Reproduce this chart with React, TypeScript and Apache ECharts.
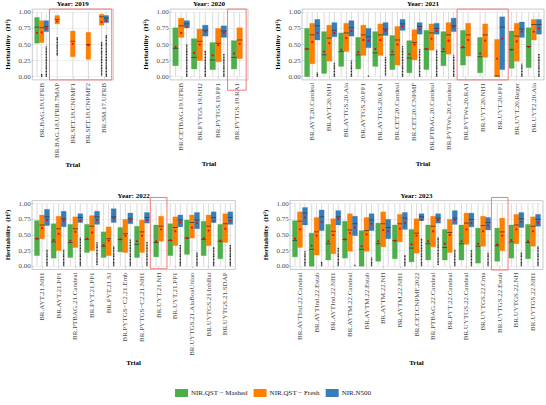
import React, { useEffect, useRef } from 'react';
import * as echarts from 'echarts';

const FONT = '"Liberation Serif", "Times New Roman", serif';
const SERIES_NAMES = ['NIR.QST − Mashed', 'NIR.QST − Fresh', 'NIR.N500'];
const SERIES_COLORS = ['#4daf4a', '#ff7f00', '#377eb8'];
const Y_TICKS = [0, 0.25, 0.5, 0.75, 1];
const YEAR_TITLES = ['Year: 2019', 'Year: 2020', 'Year: 2021', 'Year: 2022', 'Year: 2023'];

// Each box: [whiskerLo, q1, median, q3, whiskerHi, mean, outlierLo, outlierHi]
type Box = (number | null)[] | null;

const CATS_2019 = ['BR.BAG.18.UFRB', 'BR.BAG.18.UFRB.7MAP', 'BR.SET.18.CNPMF1', 'BR.SET.18.CNPMF2', 'BR.SM.17.UFRB'];
const MASHED_2019: Box[] = [[0, 0.52, 0.77, 0.92, 1, 0.68], null, null, null, null];
const FRESH_2019: Box[] = [
  [0, 0.53, 0.76, 0.87, 1, 0.69, 0.0, 0.04],
  [0, 0.82, 0.89, 0.95, 1, 0.86, 0.33, 0.62],
  [0, 0.31, 0.55, 0.71, 1, 0.51],
  [0, 0.27, 0.5, 0.69, 1, 0.49],
  [0, 0.8, 0.93, 0.97, 1, 0.85, 0.02, 0.55],
];
const N500_2019: Box[] = [
  [0, 0.7, 0.78, 0.87, 0.97, 0.75, 0.0, 0.47],
  null, null, null,
  [0, 0.84, 0.91, 0.95, 1, 0.87, 0.0, 0.65],
];

const CATS_2020 = ['BR.CETBAG.19.UFRB', 'BR.PYTGS.19.NH2', 'BR.PYTGS.19.PP1', 'BR.PYTGS.19.RA1'];
const MASHED_2020: Box[] = [
  [0, 0.17, 0.44, 0.76, 1, 0.46],
  [0, 0.12, 0.3, 0.59, 1, 0.37],
  [0, 0.11, 0.26, 0.53, 1, 0.33],
  [0, 0.12, 0.3, 0.56, 1, 0.36],
];
const FRESH_2020: Box[] = [
  [0.1, 0.61, 0.79, 0.91, 1, 0.68],
  [0, 0.25, 0.55, 0.74, 1, 0.5],
  [0, 0.23, 0.52, 0.75, 1, 0.49],
  [0, 0.28, 0.57, 0.76, 1, 0.51],
];
const N500_2020: Box[] = [
  [0, 0.76, 0.82, 0.87, 1, 0.77, 0.0, 0.5],
  [0, 0.63, 0.72, 0.8, 1, 0.7, 0.0, 0.4],
  [0, 0.61, 0.71, 0.79, 1, 0.68, 0.0, 0.36],
  null,
];

const CATS_2021 = [
  'BR.AYT.20.Candeal', 'BR.AYT.20.NH1', 'BR.AYTGS.20.Ala', 'BR.AYTGS.20.PP1', 'BR.AYTGS.20.RA1',
  'BR.CET.20.Candeal', 'BR.CET.20.CNPMF', 'BR.PTBAG.20.Candeal', 'BR.PYTWs.20.Candeal', 'BR.PYTWs.20.RA1',
  'BR.UYT.20.NH1', 'BR.UYT.20.PP1', 'BR.UYT.20.Reger', 'BR.UYT2.20.Ala',
];
const MASHED_2021: Box[] = [
  [0, 0.0, 0.43, 0.75, 1, 0.43],
  [0, 0.05, 0.34, 0.7, 1, 0.39],
  [0, 0.16, 0.39, 0.68, 1, 0.42],
  [0, 0.12, 0.34, 0.61, 1, 0.38],
  [0, 0.16, 0.37, 0.7, 1, 0.43],
  [0, 0.11, 0.34, 0.64, 1, 0.39],
  [0, 0.06, 0.29, 0.56, 1, 0.35],
  [0, 0.11, 0.43, 0.72, 1, 0.43],
  [0, 0.17, 0.39, 0.7, 1, 0.43],
  [0, 0.18, 0.45, 0.72, 1, 0.46],
  [0, 0.06, 0.31, 0.61, 1, 0.36],
  null,
  [0, 0.13, 0.42, 0.71, 1, 0.42],
  [0, 0.14, 0.47, 0.76, 1, 0.46],
];
const FRESH_2021: Box[] = [
  [0, 0.2, 0.65, 0.83, 1, 0.54],
  [0, 0.24, 0.6, 0.8, 1, 0.52],
  [0, 0.39, 0.68, 0.83, 1, 0.6],
  [0, 0.33, 0.65, 0.8, 1, 0.57],
  [0, 0.33, 0.65, 0.82, 1, 0.57],
  [0, 0.18, 0.57, 0.78, 1, 0.5],
  [0, 0.26, 0.53, 0.73, 1, 0.5],
  [0, 0.41, 0.68, 0.82, 1, 0.59],
  [0, 0.35, 0.65, 0.84, 1, 0.56],
  [0, 0.32, 0.65, 0.83, 1, 0.57],
  [0, 0.3, 0.65, 0.82, 1, 0.56],
  [0, 0.0, 0.01, 0.58, 1, 0.28],
  [0, 0.24, 0.63, 0.83, 1, 0.55],
  [0, 0.57, 0.81, 0.89, 1, 0.7],
];
const N500_2021: Box[] = [
  [0, 0.57, 0.79, 0.89, 1, 0.68, 0.0, 0.07],
  [0, 0.62, 0.72, 0.84, 1, 0.68, 0.0, 0.22],
  [0, 0.63, 0.76, 0.87, 1, 0.71, 0.0, 0.25],
  [0, 0.45, 0.62, 0.75, 1, 0.56, 0.0, 0.02],
  [0, 0.64, 0.74, 0.84, 1, 0.71, 0.02, 0.3],
  [0, 0.72, 0.82, 0.89, 1, 0.78, 0.0, 0.48],
  [0, 0.66, 0.78, 0.84, 1, 0.74, 0.0, 0.43],
  [0, 0.66, 0.75, 0.83, 1, 0.71, 0.0, 0.42],
  [0, 0.7, 0.79, 0.91, 1, 0.77, 0.0, 0.34],
  null,
  null,
  [0, 0.11, 0.77, 0.93, 1, 0.59],
  [0, 0.61, 0.74, 0.85, 1, 0.7, 0.0, 0.2],
  [0, 0.66, 0.81, 0.89, 1, 0.75, 0.0, 0.36],
];

const CATS_2022 = [
  'BR.AYT.21.NH1', 'BR.AYT.21.PP1', 'BR.PTBAG.21.Candeal', 'BR.PYT.21.PP1', 'BR.PYT.21.SJ',
  'BR.PYTGS−C2.21.Emb', 'BR.PYTGS−C2.21.NH1', 'BR.UYT.21.NH', 'BR.UYT.21.PP1',
  'BR.UYTGS.21.AlaBoaUniao', 'BR.UYTGS.21.InhBat', 'BR.UYTGS.21.SDAP',
];
const MASHED_2022: Box[] = [
  [0, 0.17, 0.44, 0.73, 1, 0.44],
  [0, 0.13, 0.39, 0.68, 1, 0.42],
  [0, 0.14, 0.38, 0.67, 1, 0.41],
  [0, 0.22, 0.43, 0.67, 1, 0.44],
  [0, 0.14, 0.32, 0.55, 1, 0.34],
  [0, 0.23, 0.43, 0.62, 1, 0.43],
  [0, 0.14, 0.35, 0.64, 1, 0.4],
  [0, 0.15, 0.38, 0.66, 1, 0.4],
  [0, 0.17, 0.41, 0.68, 1, 0.42],
  [0, 0.19, 0.45, 0.74, 1, 0.45],
  [0, 0.17, 0.43, 0.72, 1, 0.45],
  [0, 0.12, 0.4, 0.67, 1, 0.41],
];
const FRESH_2022: Box[] = [
  [0, 0.44, 0.66, 0.82, 1, 0.61],
  [0, 0.25, 0.6, 0.8, 1, 0.52],
  [0, 0.3, 0.6, 0.79, 1, 0.55],
  [0, 0.25, 0.64, 0.81, 1, 0.54],
  [0, 0.17, 0.44, 0.63, 1, 0.41],
  [0, 0.22, 0.52, 0.75, 1, 0.49],
  [0, 0.22, 0.55, 0.74, 1, 0.49],
  [0, 0.4, 0.64, 0.8, 1, 0.59],
  [0, 0.33, 0.62, 0.79, 1, 0.56],
  [0, 0.45, 0.7, 0.82, 1, 0.62],
  [0, 0.33, 0.64, 0.82, 1, 0.57],
  [0, 0.38, 0.68, 0.84, 1, 0.6],
];
const N500_2022: Box[] = [
  [0, 0.65, 0.79, 0.91, 1, 0.74, 0.0, 0.27],
  [0, 0.63, 0.76, 0.88, 1, 0.73, 0.0, 0.27],
  [0, 0.7, 0.78, 0.84, 1, 0.73, 0.0, 0.46],
  [0, 0.67, 0.79, 0.88, 1, 0.74, 0.02, 0.39],
  [0, 0.7, 0.79, 0.92, 1, 0.77, 0.0, 0.32],
  [0, 0.68, 0.76, 0.85, 1, 0.73, 0.0, 0.43],
  [0, 0.69, 0.78, 0.86, 1, 0.74, 0.0, 0.39],
  null,
  [0, 0.63, 0.74, 0.82, 1, 0.7, 0.0, 0.35],
  [0, 0.6, 0.74, 0.86, 1, 0.69, 0.0, 0.23],
  [0, 0.7, 0.78, 0.87, 1, 0.72, 0.0, 0.31],
  [0, 0.67, 0.78, 0.87, 1, 0.73, 0.0, 0.34],
];

const CATS_2023 = [
  'BR.AYTInd.22.Candeal', 'BR.AYTInd.22.Estab', 'BR.AYTInd.22.NH1', 'BR.AYTM.22.Candeal', 'BR.AYTM.22.Estab',
  'BR.AYTM.22.NH', 'BR.AYTM.22.NH1', 'BR.CET.CNPMF.2022', 'BR.PTBAG.22.Candeal', 'BR.PYT.22.Candeal',
  'BR.UYTGS.22.Candeal', 'BR.UYTGS.22.Cma', 'BR.UYTGS.22.Estab', 'BR.UYTGS.22.NH', 'BR.UYTGS.22.NH1',
];
const MASHED_2023: Box[] = [
  [0, 0.15, 0.41, 0.73, 1, 0.44],
  [0, 0.0, 0.27, 0.53, 1, 0.33],
  [0, 0.1, 0.36, 0.67, 1, 0.4],
  [0, 0.13, 0.43, 0.72, 1, 0.43],
  [0, 0.0, 0.27, 0.57, 1, 0.32],
  [0, 0.08, 0.36, 0.69, 1, 0.4],
  [0, 0.12, 0.41, 0.66, 1, 0.41],
  [0, 0.07, 0.29, 0.59, 1, 0.35],
  [0, 0.1, 0.36, 0.66, 1, 0.4],
  [0, 0.1, 0.3, 0.59, 1, 0.36],
  [0, 0.1, 0.36, 0.66, 1, 0.4],
  [0, 0.05, 0.32, 0.61, 1, 0.36],
  [0, 0.08, 0.33, 0.61, 1, 0.35],
  [0, 0.13, 0.39, 0.66, 1, 0.42],
  [0, 0.12, 0.38, 0.67, 1, 0.4],
];
const FRESH_2023: Box[] = [
  [0, 0.3, 0.72, 0.87, 1, 0.59],
  [0, 0.18, 0.55, 0.78, 1, 0.49],
  [0, 0.2, 0.56, 0.76, 1, 0.5],
  [0, 0.24, 0.58, 0.84, 1, 0.53],
  [0, 0.24, 0.57, 0.78, 1, 0.51],
  [0, 0.31, 0.68, 0.87, 1, 0.58],
  [0, 0.39, 0.68, 0.83, 1, 0.6],
  [0, 0.21, 0.53, 0.76, 1, 0.49],
  [0, 0.31, 0.64, 0.8, 1, 0.56],
  [0, 0.22, 0.54, 0.75, 1, 0.5],
  [0, 0.35, 0.69, 0.85, 1, 0.59],
  [0, 0.32, 0.65, 0.8, 1, 0.56],
  [0, 0.25, 0.55, 0.77, 1, 0.49],
  [0, 0.36, 0.66, 0.83, 1, 0.59],
  [0, 0.32, 0.64, 0.79, 1, 0.56],
];
const N500_2023: Box[] = [
  [0, 0.66, 0.85, 0.94, 1, 0.78, 0.0, 0.25],
  [0, 0.57, 0.79, 0.9, 1, 0.71, 0.0, 0.07],
  [0, 0.66, 0.79, 0.89, 1, 0.76, 0.0, 0.3],
  [0, 0.49, 0.68, 0.8, 1, 0.62, 0.0, 0.03],
  [0, 0.57, 0.74, 0.84, 1, 0.68, 0.0, 0.14],
  [0, 0.44, 0.62, 0.75, 1, 0.56],
  [0, 0.59, 0.77, 0.86, 1, 0.69, 0.0, 0.18],
  [0, 0.73, 0.79, 0.84, 1, 0.74, 0.0, 0.45],
  [0, 0.69, 0.77, 0.84, 1, 0.74, 0.02, 0.47],
  [0, 0.67, 0.77, 0.89, 1, 0.74, 0.0, 0.27],
  [0, 0.63, 0.75, 0.85, 1, 0.69, 0.0, 0.26],
  [0, 0.58, 0.7, 0.78, 1, 0.65, 0.0, 0.22],
  null,
  [0, 0.62, 0.76, 0.86, 1, 0.71, 0.0, 0.23],
  [0, 0.64, 0.75, 0.83, 1, 0.7, 0.0, 0.32],
];

const CATEGORIES = [CATS_2019, CATS_2020, CATS_2021, CATS_2022, CATS_2023];
const BOXES = [
  [MASHED_2019, FRESH_2019, N500_2019],
  [MASHED_2020, FRESH_2020, N500_2020],
  [MASHED_2021, FRESH_2021, N500_2021],
  [MASHED_2022, FRESH_2022, N500_2022],
  [MASHED_2023, FRESH_2023, N500_2023],
];
// highlighted trials (first and last category index)
const HIGHLIGHTS = [[1, 4], [3, 3], [9, 11], [7, 7], [12, 12]];

// layout (pixels): ggplot panel rectangles
const LAYOUT = [
  { L: 32.3, R: 113.3, T: 9.1, B: 79.9, trialGap: 81, hlTop: 1.05, hlBottom: -0.05 },
  { L: 170, R: 248, T: 9.1, B: 79.9, trialGap: 81, hlTop: 1.05, hlBottom: -0.21 },
  { L: 302, R: 544, T: 9.1, B: 79.9, trialGap: 81, hlTop: 1.05, hlBottom: -0.05 },
  { L: 32, R: 235.3, T: 200.6, B: 269.4, trialGap: 90, hlTop: 1.1, hlBottom: -0.04 },
  { L: 290, R: 543, T: 200.6, B: 269.4, trialGap: 90, hlTop: 1.1, hlBottom: -0.06 },
];

function boxRenderer(color: string) {
  return (params: any, api: any) => {
    const ci = api.value(0);
    const slot = api.value(1);
    const ns = api.value(2);
    const band = api.size([1, 0])[0];
    const bw = band * 0.3;
    const cx = api.coord([ci, 0])[0] + (slot - (ns - 1) / 2) * bw;
    const yv = (v: number) => api.coord([ci, v])[1];
    const children: any[] = [];
    children.push({
      type: 'line',
      shape: { x1: cx, y1: yv(api.value(3)), x2: cx, y2: yv(api.value(7)) },
      style: { stroke: '#c2c2c2', lineWidth: 0.6 },
    });
    const yq1 = yv(api.value(4));
    const yq3 = yv(api.value(6));
    children.push({
      type: 'rect',
      shape: { x: cx - bw / 2, y: yq3, width: bw, height: Math.max(yq1 - yq3, 0.5) },
      style: { fill: color, stroke: color, lineWidth: 0.3 },
    });
    const ym = yv(api.value(5));
    children.push({
      type: 'line',
      shape: { x1: cx - bw / 2, y1: ym, x2: cx + bw / 2, y2: ym },
      style: { stroke: '#3a3a3a', lineWidth: 0.8 },
    });
    const oLo = api.value(9);
    const oHi = api.value(10);
    if (typeof oLo === 'number' && typeof oHi === 'number' && !isNaN(oLo) && !isNaN(oHi)) {
      children.push({
        type: 'line',
        shape: { x1: cx, y1: yv(oLo), x2: cx, y2: yv(oHi) },
        style: { stroke: '#2a2a2a', lineWidth: 1.4, lineDash: [1.1, 0.45] },
      });
    }
    children.push({
      type: 'circle',
      shape: { cx, cy: yv(api.value(8)), r: 1.1 },
      style: { fill: '#ff0000' },
    });
    return { type: 'group', children };
  };
}

function highlightRenderer(params: any, api: any) {
  const s = api.value(0);
  const e = api.value(1);
  const band = api.size([1, 0])[0];
  const x0 = api.coord([s, 0])[0] - band / 2;
  const x1 = api.coord([e, 0])[0] + band / 2;
  const yT = api.coord([s, api.value(2)])[1];
  const yB = api.coord([s, api.value(3)])[1];
  return {
    type: 'rect',
    shape: { x: x0, y: yT, width: x1 - x0, height: yB - yT },
    style: { fill: 'none', stroke: '#f47a7a', lineWidth: 1 },
  };
}

function buildOption() {
  const grid: any[] = [];
  const xAxis: any[] = [];
  const yAxis: any[] = [];
  const series: any[] = [];
  const graphic: any[] = [];

  LAYOUT.forEach((lay, p) => {
    const cats = CATEGORIES[p];
    const n = cats.length;
    const w = (lay.R - lay.L) / (n + 0.2);
    grid.push({ left: lay.L + 0.1 * w, top: lay.T, width: n * w, height: lay.B - lay.T });
    xAxis.push({
      type: 'category',
      gridIndex: p,
      data: cats,
      name: 'Trial',
      nameLocation: 'middle',
      nameGap: lay.trialGap,
      nameTextStyle: { fontFamily: FONT, fontWeight: 'bold', fontSize: 7, color: '#000' },
      axisLine: { show: false },
      axisTick: { show: true, alignWithLabel: true, length: 2, lineStyle: { color: '#b3b3b3', width: 0.6 } },
      axisLabel: { rotate: 90, interval: 0, fontSize: 7, color: '#4d4d4d', margin: 3, fontFamily: FONT },
      splitLine: { show: false },
    });
    yAxis.push({
      type: 'value',
      gridIndex: p,
      min: -0.05,
      max: 1.05,
      name: 'Heritability  (H²)',
      nameLocation: 'middle',
      nameRotate: 90,
      nameGap: 22,
      nameTextStyle: { fontFamily: FONT, fontWeight: 'bold', fontSize: 7, color: '#000' },
      axisLine: { show: false },
      axisTick: { show: true, length: 2, customValues: Y_TICKS, lineStyle: { color: '#b3b3b3', width: 0.6 } },
      axisLabel: {
        customValues: Y_TICKS,
        formatter: (v: number) => Number(v).toFixed(2),
        fontSize: 7,
        color: '#4d4d4d',
        margin: 3,
        fontFamily: FONT,
      },
      splitLine: { show: true, lineStyle: { color: '#e6e6e6', width: 0.6 } },
    });

    for (let s = 0; s < 3; s++) {
      const data: any[] = [];
      BOXES[p][s].forEach((box, c) => {
        if (!box) return;
        const present = [0, 1, 2].filter((k) => BOXES[p][k][c]);
        const slot = present.indexOf(s);
        const vals = [0, 1, 2, 3, 4, 5, 6, 7].map((i) => {
          const v = box[i];
          return v === null || v === undefined ? NaN : v;
        });
        data.push([c, slot, present.length, ...vals]);
      });
      series.push({
        type: 'custom',
        name: SERIES_NAMES[s],
        xAxisIndex: p,
        yAxisIndex: p,
        itemStyle: { color: SERIES_COLORS[s] },
        renderItem: boxRenderer(SERIES_COLORS[s]),
        encode: { x: 0, y: 3 },
        data,
        z: 2,
        silent: true,
      });
    }

    const hl = HIGHLIGHTS[p];
    series.push({
      type: 'custom',
      name: 'highlight',
      xAxisIndex: p,
      yAxisIndex: p,
      renderItem: highlightRenderer,
      encode: { x: 0, y: 2 },
      data: [[hl[0], hl[1], lay.hlTop, lay.hlBottom]],
      z: 5,
      silent: true,
    });

    graphic.push({
      type: 'rect',
      shape: { x: lay.L, y: lay.T, width: lay.R - lay.L, height: lay.B - lay.T },
      style: { fill: 'none', stroke: '#b3b3b3', lineWidth: 0.7 },
      z: 1,
      silent: true,
    });
    graphic.push({
      type: 'text',
      x: (lay.L + lay.R) / 2,
      y: lay.T - 5,
      style: {
        text: YEAR_TITLES[p],
        align: 'center',
        verticalAlign: 'middle',
        fontFamily: FONT,
        fontWeight: 'bold',
        fontSize: 7,
        fill: '#000',
      },
      silent: true,
    });
  });

  return {
    animation: false,
    backgroundColor: '#ffffff',
    textStyle: { fontFamily: FONT },
    grid,
    xAxis,
    yAxis,
    series,
    graphic,
    legend: {
      data: SERIES_NAMES,
      bottom: 3,
      left: 'center',
      icon: 'rect',
      itemWidth: 13,
      itemHeight: 8,
      itemGap: 6,
      selectedMode: false,
      textStyle: { fontFamily: FONT, fontSize: 7, color: '#1a1a1a', padding: [0, 0, 0, -2] },
    },
  };
}

export default function App() {
  const ref = useRef<HTMLDivElement>(null);
  useEffect(() => {
    document.body.style.margin = '0';
    if (!ref.current) return;
    const chart = echarts.init(ref.current, undefined, { renderer: 'svg' });
    chart.setOption(buildOption() as any);
    return () => chart.dispose();
  }, []);
  return <div ref={ref} style={{ width: 546, height: 405 }} />;
}
